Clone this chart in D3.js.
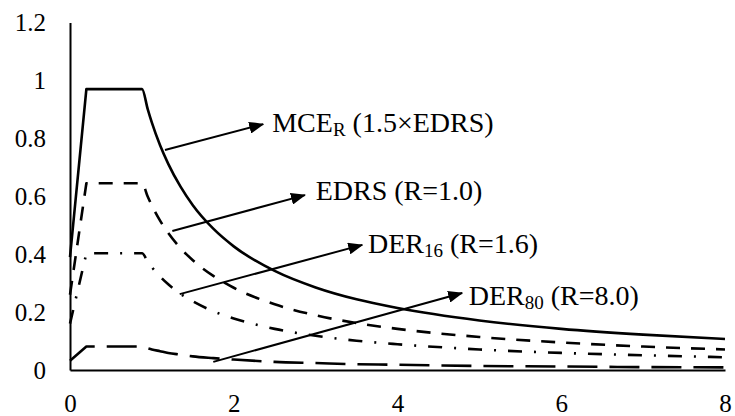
<!DOCTYPE html>
<html>
<head>
<meta charset="utf-8">
<script src="https://cdn.jsdelivr.net/npm/d3@7"></script>
<style>
  body { margin: 0; background: #fff; }
  text { font-family: 'Liberation Serif', 'DejaVu Serif', serif; fill: #000; }
</style>
</head>
<body>
<div id="chart"></div>
<script>
// Period T (s) for every series
const periods = [0, 0.2, 0.88, 0.95, 1, 1.1, 1.2, 1.35, 1.5, 1.75, 2, 2.5, 3, 3.5, 4, 5, 6, 7, 8];

// Spectral values
const mceValues   = [0.39, 0.97, 0.97, 0.90, 0.854, 0.776, 0.712, 0.633, 0.569, 0.488, 0.427, 0.342, 0.285, 0.244, 0.214, 0.171, 0.142, 0.122, 0.107];
const edrsValues  = [0.26, 0.645, 0.645, 0.598, 0.568, 0.516, 0.473, 0.421, 0.379, 0.325, 0.284, 0.227, 0.189, 0.162, 0.142, 0.114, 0.095, 0.081, 0.071];
const der16Values = [0.16, 0.403, 0.403, 0.374, 0.355, 0.323, 0.296, 0.263, 0.237, 0.203, 0.178, 0.142, 0.118, 0.101, 0.089, 0.071, 0.059, 0.051, 0.044];
const der80Values = [0.032, 0.081, 0.081, 0.075, 0.071, 0.065, 0.059, 0.053, 0.047, 0.041, 0.036, 0.028, 0.024, 0.020, 0.018, 0.014, 0.012, 0.010, 0.009];

const xTicks = [0, 2, 4, 6, 8];
const yTicks = [0, 0.2, 0.4, 0.6, 0.8, 1, 1.2];

// Annotation labels: main text, subscript, rest
const labelMain = ['MCE', 'EDRS', 'DER', 'DER'];
const labelSub  = ['R', '', '16', '80'];
const labelRest = [' (1.5×EDRS)', ' (R=1.0)', ' (R=1.6)', ' (R=8.0)'];
// arrow start (on curve), arrow tip, label anchor — in data units [T, Sa]
const arrowFrom = [[1.16, 0.76], [1.25, 0.48], [1.34, 0.262], [1.75, 0.028]];
const arrowTo   = [[2.36, 0.849], [2.87, 0.604], [3.57, 0.432], [4.79, 0.266]];
const labelAt   = [[2.47, 0.822], [3.0, 0.587], [3.64, 0.404], [4.87, 0.224]];

const width = 735, height = 416;
const margin = {top: 22.5, right: 10, bottom: 46, left: 70};
const serif = "'Liberation Serif', 'DejaVu Serif', serif";

const svg = d3.select('#chart')
  .append('svg')
  .attr('width', width)
  .attr('height', height);

const x = d3.scaleLinear().domain([0, 8]).range([margin.left, width - margin.right]);
const y = d3.scaleLinear().domain([0, 1.2]).range([height - margin.bottom, margin.top]);

// axes
const xAxis = svg.append('g')
  .attr('transform', `translate(0,${y(0)})`)
  .call(d3.axisBottom(x).tickValues(xTicks).tickSize(0).tickSizeOuter(0).tickPadding(24).tickFormat(d3.format('d')));

const yAxis = svg.append('g')
  .attr('transform', `translate(${x(0)},0)`)
  .call(d3.axisLeft(y).tickValues(yTicks).tickSize(0).tickSizeOuter(0).tickPadding(24).tickFormat(d => String(+d.toFixed(1))));

[xAxis, yAxis].forEach(g => {
  g.attr('font-family', serif).attr('font-size', 25);
  g.select('.domain').attr('stroke', '#000').attr('stroke-width', 2);
});

// curves: straight rise, then smooth plateau + decay
const series = [
  {values: mceValues, dash: null},
  {values: edrsValues, dash: '14 11'},
  {values: der16Values, dash: '14 12 2 12'},
  {values: der80Values, dash: '30 12'}
];

const riseLine = d3.line().x(d => x(d[0])).y(d => y(d[1]));
const smoothLine = d3.line().x(d => x(d[0])).y(d => y(d[1])).curve(d3.curveMonotoneX);

series.forEach(s => {
  const pts = periods.map((t, i) => [t, s.values[i]]);
  const d = riseLine(pts.slice(0, 2)) + smoothLine(pts.slice(1)).replace(/^M/, 'L');
  svg.append('path')
    .attr('fill', 'none')
    .attr('stroke', '#000')
    .attr('stroke-width', 2.6)
    .attr('stroke-linejoin', 'round')
    .attr('stroke-dasharray', s.dash)
    .attr('d', d);
});

// arrow marker
svg.append('defs').append('marker')
  .attr('id', 'arrow')
  .attr('markerUnits', 'userSpaceOnUse')
  .attr('markerWidth', 15)
  .attr('markerHeight', 12)
  .attr('refX', 14)
  .attr('refY', 6)
  .attr('orient', 'auto')
  .append('path')
  .attr('d', 'M0,0 L15,6 L0,12 Z')
  .attr('fill', '#000');

arrowFrom.forEach((p, i) => {
  svg.append('line')
    .attr('x1', x(p[0]))
    .attr('y1', y(p[1]))
    .attr('x2', x(arrowTo[i][0]))
    .attr('y2', y(arrowTo[i][1]))
    .attr('stroke', '#000')
    .attr('stroke-width', 2)
    .attr('marker-end', 'url(#arrow)');

  const t = svg.append('text')
    .attr('x', x(labelAt[i][0]))
    .attr('y', y(labelAt[i][1]))
    .attr('font-family', serif)
    .attr('font-size', 28);
  t.append('tspan').text(labelMain[i]);
  if (labelSub[i]) {
    t.append('tspan').attr('dy', 4).attr('font-size', 19).text(labelSub[i]);
    t.append('tspan').attr('dy', -4).text(labelRest[i]);
  } else {
    t.append('tspan').text(labelRest[i]);
  }
});
</script>
</body>
</html>
